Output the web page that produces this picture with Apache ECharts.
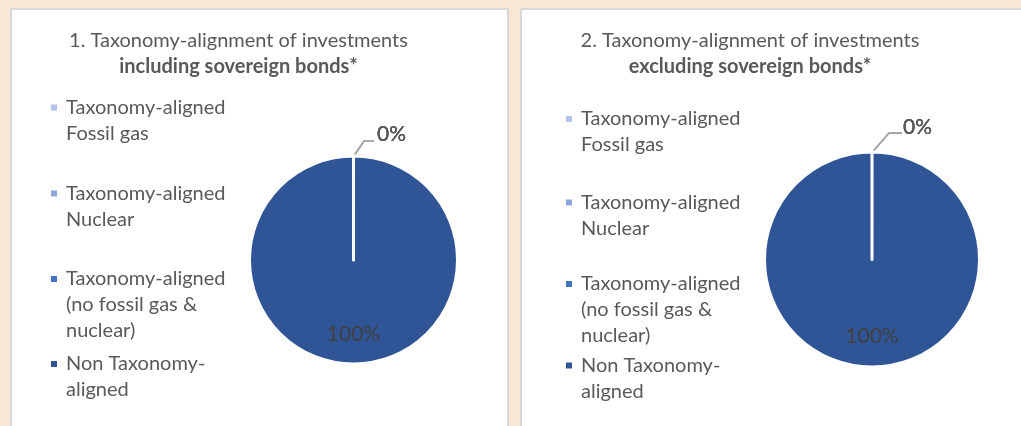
<!DOCTYPE html>
<html>
<head>
<meta charset="utf-8">
<title>Taxonomy-alignment of investments</title>
<script src="https://cdn.jsdelivr.net/npm/echarts@6/dist/echarts.min.js"></script>
<style>
  html, body { margin: 0; padding: 0; background: #fae6d4; }
  #main { width: 1021px; height: 426px; }
</style>
</head>
<body>
<div id="main"></div>
<script>
// legend entries, shared by both pies
var categories = [
    'Taxonomy-aligned\nFossil gas',
    'Taxonomy-aligned\nNuclear',
    'Taxonomy-aligned\n(no fossil gas &\nnuclear)',
    'Non Taxonomy-\naligned'
];
// shares in %
var inclSovereign = [0, 0, 0, 100];
var exclSovereign = [0, 0, 0, 100];
var titleLines = [
    ['1. Taxonomy-alignment of investments', 'including sovereign bonds*'],
    ['2. Taxonomy-alignment of investments', 'excluding sovereign bonds*']
];

var sliceColors = ['#b4c4e7', '#8aa6dc', '#4472c4', '#2f5597'];
var seriesValues = [inclSovereign, exclSovereign];
var font = 'Lato';
var textGray = '#595959';
var lineH = 26;

// layout of the two panels (lead = leader line of the 0% label: knee x/y, end x, text x/y)
var panels = [
    {
        titleX: 238.5, legendX: 51, rows: [107.5, 193.5, 279, 364],
        center: [353.5, 260], radius: 104,
        lead: { kx: 10.5, ky: -13.5, ex: 20.5, tx: 23.5, ty: -20.5 }
    },
    {
        titleX: 750, legendX: 566, rows: [119, 202.5, 284, 365.5],
        center: [872, 259.5], radius: 107.5,
        lead: { kx: 17, ky: -17.5, ex: 30, tx: 31, ty: -23.5 }
    }
];

var myChart = echarts.init(document.getElementById('main'));

var titles = panels.map(function (p, k) {
    return {
        text: titleLines[k][0],
        subtext: titleLines[k][1],
        left: p.titleX,
        top: 30.5,
        textAlign: 'center',
        padding: 0,
        itemGap: 6.5,
        textStyle: { fontFamily: font, fontSize: 20, fontWeight: 'normal', color: textGray, lineHeight: 20 },
        subtextStyle: { fontFamily: font, fontSize: 20, fontWeight: 'bold', color: textGray, lineHeight: 20 }
    };
});

// one legend per entry; empty lines in front keep the marker on the first text line
var legends = [];
panels.forEach(function (p) {
    categories.forEach(function (name, i) {
        var n = name.split('\n').length;
        var blockH = lineH * (2 * n - 1);
        legends.push({
            data: [name],
            orient: 'vertical',
            left: p.legendX,
            top: p.rows[i] - blockH / 2,
            padding: 0,
            icon: 'rect',
            itemWidth: 6,
            itemHeight: 6,
            itemStyle: { borderWidth: 0 },
            selectedMode: false,
            formatter: function (nm) {
                return new Array(nm.split('\n').length).join('\n') + nm;
            },
            textStyle: {
                fontFamily: font,
                fontSize: 20,
                lineHeight: lineH,
                color: textGray,
                padding: [0, 0, 0, 4]
            }
        });
    });
});

function labelLayout(params) {
    var r = params.rect;
    var v = seriesValues[params.seriesIndex][params.dataIndex];
    if (v > 0) {
        return { dy: r.height * 0.09 };
    }
    var L = panels[params.seriesIndex].lead;
    var x0 = r.x + r.width / 2;
    var y0 = r.y;
    return {
        x: x0 + L.tx,
        y: y0 + L.ty,
        align: 'left',
        verticalAlign: 'middle',
        labelLinePoints: [[x0, y0 + 2], [x0 + L.kx, y0 + L.ky], [x0 + L.ex, y0 + L.ky]]
    };
}

var series = panels.map(function (p, k) {
    var values = seriesValues[k];
    return {
        type: 'pie',
        center: p.center,
        radius: p.radius,
        startAngle: 90,
        clockwise: true,
        // tiny min angle so the empty slices still leave their white edge
        minAngle: 0.01,
        avoidLabelOverlap: false,
        silent: true,
        emphasis: { disabled: true },
        itemStyle: { borderColor: '#ffffff', borderWidth: 3 },
        label: {
            show: true,
            position: 'outside',
            formatter: '{c}%',
            fontFamily: font,
            fontSize: 21,
            color: textGray
        },
        labelLine: {
            show: true,
            length: 10,
            length2: 10,
            lineStyle: { color: '#a6a6a6', width: 1.5 }
        },
        labelLayout: labelLayout,
        data: categories.map(function (name, i) {
            var item = { name: name, value: values[i], itemStyle: { color: sliceColors[i] } };
            if (values[i] > 0) {
                item.label = { position: 'inside', color: '#404040' };
                item.labelLine = { show: false };
            }
            return item;
        })
    };
});

var option = {
    backgroundColor: '#fae6d4',
    animation: false,
    graphic: [
        {
            type: 'rect', silent: true, z: 0,
            shape: { x: 11, y: 9, width: 497, height: 440 },
            style: { fill: '#ffffff', stroke: '#d9d9d9', lineWidth: 2 }
        },
        {
            type: 'rect', silent: true, z: 0,
            shape: { x: 521, y: 9, width: 520, height: 440 },
            style: { fill: '#ffffff', stroke: '#d9d9d9', lineWidth: 2 }
        }
    ],
    title: titles,
    legend: legends,
    series: series
};

myChart.setOption(option);
</script>
</body>
</html>
